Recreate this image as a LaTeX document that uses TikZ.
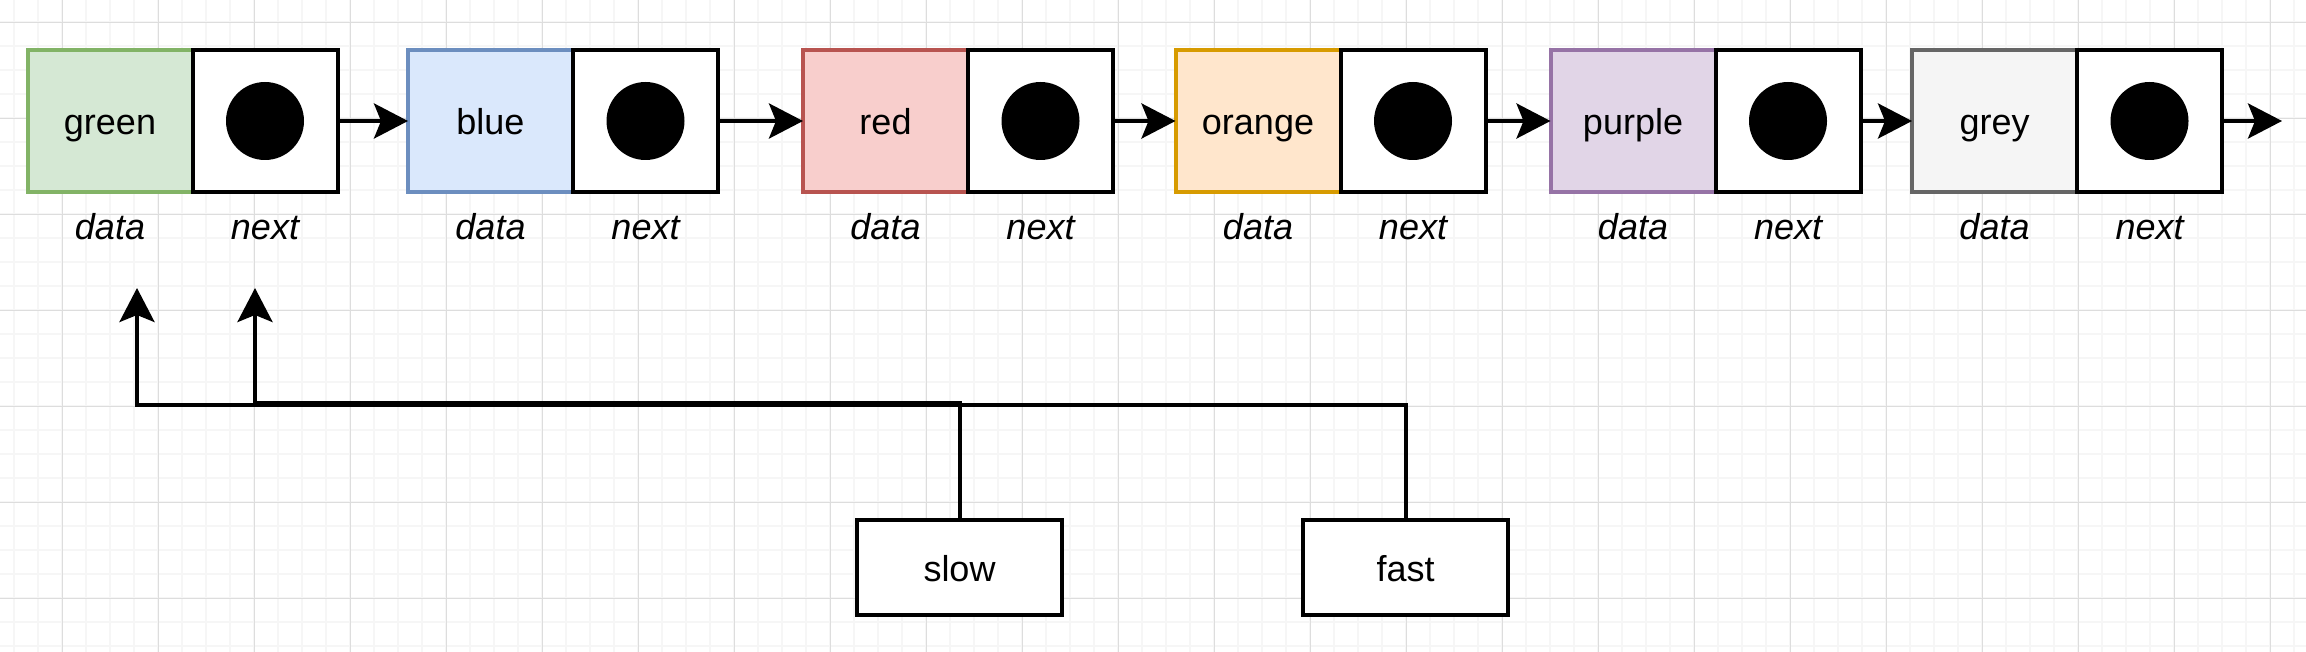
\documentclass[tikz,border=0pt]{standalone}
\usepackage{fontspec}
\setmainfont{Liberation Sans}
\usetikzlibrary{arrows.meta}
\definecolor{gF}{HTML}{D5E8D4}\definecolor{gD}{HTML}{82B366}
\definecolor{bF}{HTML}{DAE8FC}\definecolor{bD}{HTML}{6C8EBF}
\definecolor{rF}{HTML}{F8CECC}\definecolor{rD}{HTML}{B85450}
\definecolor{oF}{HTML}{FFE6CC}\definecolor{oD}{HTML}{D79B00}
\definecolor{pF}{HTML}{E1D5E7}\definecolor{pD}{HTML}{9673A6}
\definecolor{yF}{HTML}{F5F5F5}\definecolor{yD}{HTML}{666666}
\definecolor{gridminor}{HTML}{F6F6F6}
\definecolor{gridmajor}{HTML}{DDDDDD}
\begin{document}
\begin{tikzpicture}[x=1pt,y=-1pt,
  txt/.style={font=\fontsize{36}{43}\selectfont, text height=28pt, text depth=0pt},
  box/.style={draw, line width=4pt, inner sep=0pt, outer sep=0pt, minimum height=142pt, txt, anchor=west},
  databox/.style={box, minimum width=165pt},
  nextbox/.style={box, draw=black, fill=white, minimum width=145pt},
  dot/.style={circle, fill=black, minimum size=78pt, inner sep=0pt},
  lbl/.style={font=\fontsize{36}{43}\selectfont\itshape, inner sep=0pt, text height=26pt, text depth=0pt},
  conn/.style={line width=4pt, -{Stealth[length=34pt,width=35pt,inset=7pt]}},
  ptrbox/.style={draw, line width=4pt, fill=white, minimum width=205pt, minimum height=95pt, inner sep=0pt, outer sep=0pt, txt},
  minorgrid/.style={draw=gridminor, line width=2pt},
  majorgrid/.style={draw=gridmajor, line width=1pt}
]
\useasboundingbox (0,0) rectangle (2306,652);
\fill[white] (0,0) rectangle (2306,652);
% grid
\foreach \i in {0,...,95} {\draw[minorgrid] (14.3+24*\i,0) -- (14.3+24*\i,652);}
\foreach \i in {0,...,26} {\draw[minorgrid] (0,22.3+24*\i) -- (2306,22.3+24*\i);}
\foreach \i in {0,...,23} {\draw[majorgrid] (62.3+96*\i,0) -- (62.3+96*\i,652);}
\foreach \i in {0,...,6} {\draw[majorgrid] (0,22.3+96*\i) -- (2306,22.3+96*\i);}

% list nodes
\node[databox, fill=gF, draw=gD] (d1) at (27.5,121) {green};
\node[nextbox] (n1) at (d1.east) {};
\node[dot] (c1) at (n1.center) {};
\node[databox, fill=bF, draw=bD] (d2) at (408,121) {blue};
\node[nextbox] (n2) at (d2.east) {};
\node[dot] (c2) at (n2.center) {};
\node[databox, fill=rF, draw=rD] (d3) at (803,121) {red};
\node[nextbox] (n3) at (d3.east) {};
\node[dot] (c3) at (n3.center) {};
\node[databox, fill=oF, draw=oD] (d4) at (1175.5,121) {orange};
\node[nextbox] (n4) at (d4.east) {};
\node[dot] (c4) at (n4.center) {};
\node[databox, fill=pF, draw=pD] (d5) at (1550.5,121) {purple};
\node[nextbox] (n5) at (d5.east) {};
\node[dot] (c5) at (n5.center) {};
\node[databox, fill=yF, draw=yD] (d6) at (1912,121) {grey};
\node[nextbox] (n6) at (d6.east) {};
\node[dot] (c6) at (n6.center) {};

% labels
\foreach \k in {1,...,6} {
  \node[lbl] (ld\k) at ([yshift=-106pt]d\k.center) {data};
  \node[lbl] (ln\k) at ([yshift=-106pt]n\k.center) {next};
}

% links
\draw[conn] (n1.east) -- (d2.west);
\draw[conn] (n2.east) -- (d3.west);
\draw[conn] (n3.east) -- (d4.west);
\draw[conn] (n4.east) -- (d5.west);
\draw[conn] (n5.east) -- (d6.west);
\coordinate (tail) at (2282,121);
\draw[conn] (n6.east) -- (tail);

% pointers
\node[ptrbox] (slow) at (959.5,567.5) {slow};
\node[ptrbox] (fast) at (1405.5,567.5) {fast};
\coordinate (pd) at (137,288);
\coordinate (pn) at (255,288);
\coordinate (pdb) at (137,404.5);
\coordinate (pnb) at (255,403);
\draw[conn] (slow.north) |- (pnb) -- (pn);
\draw[conn] (fast.north) |- (pdb) -- (pd);
\end{tikzpicture}
\end{document}
